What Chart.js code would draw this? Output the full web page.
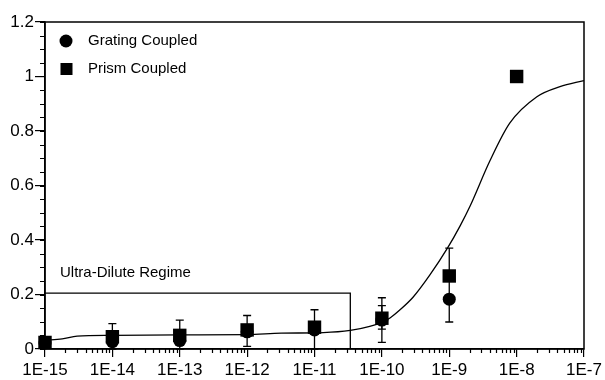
<!DOCTYPE html>
<html><head><meta charset="utf-8">
<script src="https://cdn.jsdelivr.net/npm/chart.js@4/dist/chart.umd.min.js"></script>
<style>html,body{margin:0;padding:0;background:#fff}#wrap{width:605px;height:380px;position:relative}</style>
</head><body><div id="wrap"><canvas id="c" width="605" height="380"></canvas></div>
<script>
// ---- data ----
const concentrations = [1e-15, 1e-14, 1e-13, 1e-12, 1e-11, 1e-10, 1e-9, 1e-8];
const gratingValues  = [0.022, 0.027, 0.031, 0.063, 0.070, 0.106, 0.183, null];
const gratingErrLow  = [null, 0.0, 0.0, 0.010, 0.0, 0.024, 0.099, null];
const gratingErrHigh = [null, 0.093, 0.106, 0.123, 0.144, 0.188, 0.370, null];
const prismValues    = [0.024, 0.045, 0.050, 0.070, 0.080, 0.113, 0.268, 1.0];
const prismErrLow    = [null, null, null, null, null, 0.073, null, null];
const prismErrHigh   = [null, null, null, null, null, 0.159, null, null];
const fitX = [1e-15, 1.8e-15, 3e-15, 1e-14, 1e-13, 1e-12, 3.2e-12, 1.35e-11, 3.4e-11, 6.6e-11, 1e-10, 1.32e-10, 1.86e-10, 2.9e-10, 5.1e-10, 9.5e-10, 1.45e-9, 2.04e-9, 4e-9, 7.9e-9, 2e-8, 4.4e-8, 1e-7];
const fitY = [0.032, 0.037, 0.047, 0.050, 0.052, 0.053, 0.058, 0.060, 0.068, 0.083, 0.098, 0.114, 0.144, 0.190, 0.270, 0.372, 0.452, 0.525, 0.690, 0.829, 0.926, 0.963, 0.985];
const regimeX = [1e-15, 3.4e-11];
const regimeTop = 0.205;
const regimeLabel = 'Ultra-Dilute Regime';
const xTickValues = [1e-15, 1e-14, 1e-13, 1e-12, 1e-11, 1e-10, 1e-9, 1e-8, 1e-7];
const xTickLabels = ['1E-15', '1E-14', '1E-13', '1E-12', '1E-11', '1E-10', '1E-9', '1E-8', '1E-7'];
const yTickValues = [0, 0.2, 0.4, 0.6, 0.8, 1, 1.2];
const yTickLabels = ['0', '0.2', '0.4', '0.6', '0.8', '1', '1.2'];
const seriesNames = ['Grating Coupled', 'Prism Coupled'];

const FONT = "'Liberation Sans', Arial, Helvetica, sans-serif";

function pts(xs, ys) { return xs.map((x, i) => ({x: x, y: ys[i]})).filter(p => p.y !== null); }

const errorBars = {
  id: 'errorBars',
  beforeDatasetsDraw(chart) {
    const ctx = chart.ctx, xs = chart.scales.x, ys = chart.scales.y;
    const sets = [[gratingErrLow, gratingErrHigh], [prismErrLow, prismErrHigh]];
    ctx.save();
    ctx.strokeStyle = '#000'; ctx.lineWidth = 1.3;
    sets.forEach(([lo, hi]) => {
      concentrations.forEach((c, i) => {
        if (lo[i] === null || hi[i] === null) return;
        const x = xs.getPixelForValue(c), y1 = ys.getPixelForValue(lo[i]), y2 = ys.getPixelForValue(hi[i]);
        ctx.beginPath();
        ctx.moveTo(x, y1); ctx.lineTo(x, y2);
        ctx.moveTo(x - 4, y1); ctx.lineTo(x + 4, y1);
        ctx.moveTo(x - 4, y2); ctx.lineTo(x + 4, y2);
        ctx.stroke();
      });
    });
    ctx.restore();
  }
};

const frameAndExtras = {
  id: 'frameAndExtras',
  afterDraw(chart) {
    const ctx = chart.ctx, a = chart.chartArea, xs = chart.scales.x, ys = chart.scales.y;
    ctx.save();
    ctx.strokeStyle = '#000'; ctx.lineWidth = 1.5;
    ctx.strokeRect(a.left, a.top, a.right - a.left, a.bottom - a.top);
    // minor y ticks
    ctx.lineWidth = 1.2;
    ctx.beginPath();
    for (let v = 0; v <= 1.2001; v += 0.05) {
      const y = Math.round(ys.getPixelForValue(v)) + 0.5;
      ctx.moveTo(a.left - 5, y); ctx.lineTo(a.left, y);
    }
    // minor x ticks (log decades)
    for (let d = 0; d < xTickValues.length - 1; d++) {
      for (let m = 2; m <= 9; m++) {
        const x = Math.round(xs.getPixelForValue(xTickValues[d] * m)) + 0.5;
        ctx.moveTo(x, a.bottom); ctx.lineTo(x, a.bottom + 4);
      }
    }
    ctx.stroke();
    // regime label
    ctx.fillStyle = '#000';
    ctx.font = '15px ' + FONT;
    ctx.textBaseline = 'middle'; ctx.textAlign = 'left';
    ctx.fillText(regimeLabel, a.left + 15, ys.getPixelForValue(regimeTop) - 20);
    // legend
    ctx.beginPath(); ctx.arc(a.left + 21, a.top + 19, 6.5, 0, Math.PI * 2); ctx.fill();
    ctx.fillRect(a.left + 15.5, a.top + 41, 12, 12);
    ctx.fillText(seriesNames[0], a.left + 43, a.top + 19);
    ctx.fillText(seriesNames[1], a.left + 43, a.top + 47);
    ctx.restore();
  }
};

new Chart(document.getElementById('c'), {
  type: 'scatter',
  data: {
    datasets: [
      { label: seriesNames[0], data: pts(concentrations, gratingValues), pointStyle: 'circle', pointRadius: 6.5,
        backgroundColor: '#000', borderColor: '#000', borderWidth: 0, showLine: false, clip: false, order: 0 },
      { label: seriesNames[1], data: pts(concentrations, prismValues), pointStyle: 'rect', pointRadius: 9.5,
        backgroundColor: '#000', borderColor: '#000', borderWidth: 0, showLine: false, clip: false, order: 1 },
      { label: 'fit', data: pts(fitX, fitY), showLine: true, pointRadius: 0, borderColor: '#000', borderWidth: 1.3,
        cubicInterpolationMode: 'monotone', fill: false, order: 2 },
      { label: 'regime', data: [{x: regimeX[0], y: regimeTop}, {x: regimeX[1], y: regimeTop}, {x: regimeX[1], y: 0}],
        showLine: true, pointRadius: 0, borderColor: '#000', borderWidth: 1.3, tension: 0, fill: false, order: 3 }
    ]
  },
  options: {
    responsive: false, animation: false, devicePixelRatio: 1,
    layout: { padding: { top: 22, right: 21, left: 0, bottom: 0 } },
    plugins: { legend: { display: false }, tooltip: { enabled: false } },
    scales: {
      x: {
        type: 'logarithmic', min: 1e-15, max: 1e-7,
        afterBuildTicks(scale) { scale.ticks = xTickValues.map(v => ({value: v})); },
        afterFit(scale) { scale.height = 31; },
        grid: { drawOnChartArea: false, drawTicks: true, tickLength: 8, color: '#000', lineWidth: 1.2 },
        border: { display: true, color: '#000', width: 1.5 },
        ticks: { autoSkip: false, maxRotation: 0, padding: 3, color: '#000', font: { family: FONT, size: 17 },
          callback(v, i) { return xTickLabels[i]; } }
      },
      y: {
        min: 0, max: 1.2,
        afterBuildTicks(scale) { scale.ticks = yTickValues.map(v => ({value: v})); },
        afterFit(scale) { scale.width = 45; },
        grid: { drawOnChartArea: false, drawTicks: true, tickLength: 10, color: '#000', lineWidth: 1.2 },
        border: { display: true, color: '#000', width: 1.5 },
        ticks: { padding: 1, color: '#000', font: { family: FONT, size: 17 },
          callback(v, i) { return yTickLabels[i]; } }
      }
    }
  },
  plugins: [errorBars, frameAndExtras]
});
</script></body></html>
